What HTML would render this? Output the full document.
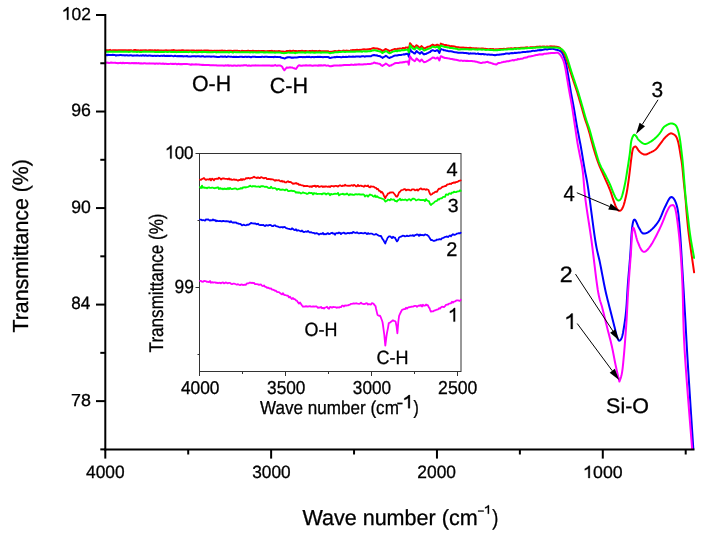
<!DOCTYPE html>
<html><head><meta charset="utf-8"><style>
html,body{margin:0;padding:0;background:#fff;}
svg{display:block;font-family:"Liberation Sans", sans-serif;will-change:transform;text-rendering:geometricPrecision;}
</style></head><body>
<svg width="706" height="537" viewBox="0 0 706 537">
<rect width="706" height="537" fill="#fff"/>
<line x1="96" y1="15.0" x2="105.3" y2="15.0" stroke="#000" stroke-width="2"/>
<line x1="96" y1="111.53" x2="105.3" y2="111.53" stroke="#000" stroke-width="2"/>
<line x1="96" y1="208.06" x2="105.3" y2="208.06" stroke="#000" stroke-width="2"/>
<line x1="96" y1="304.59000000000003" x2="105.3" y2="304.59000000000003" stroke="#000" stroke-width="2"/>
<line x1="96" y1="401.12" x2="105.3" y2="401.12" stroke="#000" stroke-width="2"/>
<line x1="100.3" y1="63.26" x2="105.3" y2="63.26" stroke="#000" stroke-width="2"/>
<line x1="100.3" y1="159.79" x2="105.3" y2="159.79" stroke="#000" stroke-width="2"/>
<line x1="100.3" y1="256.32" x2="105.3" y2="256.32" stroke="#000" stroke-width="2"/>
<line x1="100.3" y1="352.85" x2="105.3" y2="352.85" stroke="#000" stroke-width="2"/>
<line x1="100.3" y1="449.38" x2="105.3" y2="449.38" stroke="#000" stroke-width="2"/>
<line x1="105.3" y1="449.5" x2="105.3" y2="458.6" stroke="#000" stroke-width="2"/>
<line x1="271.13" y1="449.5" x2="271.13" y2="458.6" stroke="#000" stroke-width="2"/>
<line x1="436.96000000000004" y1="449.5" x2="436.96000000000004" y2="458.6" stroke="#000" stroke-width="2"/>
<line x1="602.79" y1="449.5" x2="602.79" y2="458.6" stroke="#000" stroke-width="2"/>
<line x1="188.215" y1="449.5" x2="188.215" y2="454.5" stroke="#000" stroke-width="2"/>
<line x1="354.045" y1="449.5" x2="354.045" y2="454.5" stroke="#000" stroke-width="2"/>
<line x1="519.875" y1="449.5" x2="519.875" y2="454.5" stroke="#000" stroke-width="2"/>
<line x1="685.7049999999999" y1="449.5" x2="685.7049999999999" y2="454.5" stroke="#000" stroke-width="2"/>
<g transform="translate(61.93,19.63) scale(0.9950,1)"><path d="M0.375 0L0.287 0L0.287 -0.555Q0.19 -0.48 0.09 -0.452L0.09 -0.54Q0.24 -0.6 0.315 -0.716L0.375 -0.716Z" transform="translate(0.00,0) scale(17.493)" fill="#000" stroke="#000" stroke-width="0.0171"/><text x="9.73" y="0" font-size="17.49" fill="#000" stroke="#000" stroke-width="0.3" xml:space="preserve">02</text></g>
<g transform="translate(71.17,116.42) scale(0.9881,1)"><text x="0.00" y="0" font-size="17.94" fill="#000" stroke="#000" stroke-width="0.3" xml:space="preserve">96</text></g>
<g transform="translate(71.17,212.82) scale(0.9833,1)"><text x="0.00" y="0" font-size="17.94" fill="#000" stroke="#000" stroke-width="0.3" xml:space="preserve">90</text></g>
<g transform="translate(71.26,309.22) scale(0.9616,1)"><text x="0.00" y="0" font-size="17.80" fill="#000" stroke="#000" stroke-width="0.3" xml:space="preserve">84</text></g>
<g transform="translate(71.09,406.03) scale(1.0289,1)"><text x="0.00" y="0" font-size="17.37" fill="#000" stroke="#000" stroke-width="0.3" xml:space="preserve">78</text></g>
<g transform="translate(86.00,477.72) scale(0.9667,1)"><text x="0.00" y="0" font-size="17.94" fill="#000" stroke="#000" stroke-width="0.3" xml:space="preserve">4000</text></g>
<g transform="translate(252.24,477.72) scale(0.9708,1)"><text x="0.00" y="0" font-size="17.80" fill="#000" stroke="#000" stroke-width="0.3" xml:space="preserve">3000</text></g>
<g transform="translate(417.33,477.72) scale(0.9685,1)"><text x="0.00" y="0" font-size="17.94" fill="#000" stroke="#000" stroke-width="0.3" xml:space="preserve">2000</text></g>
<g transform="translate(583.20,478.03) scale(1.0311,1)"><path d="M0.375 0L0.287 0L0.287 -0.555Q0.19 -0.48 0.09 -0.452L0.09 -0.54Q0.24 -0.6 0.315 -0.716L0.375 -0.716Z" transform="translate(0.00,0) scale(17.218)" fill="#000" stroke="#000" stroke-width="0.0174"/><text x="9.58" y="0" font-size="17.22" fill="#000" stroke="#000" stroke-width="0.3" xml:space="preserve">000</text></g>
<g transform="translate(28.29,332.57) rotate(-90) scale(0.9801,1)"><text x="0.00" y="0" font-size="21.78" fill="#000" stroke="#000" stroke-width="0.3" xml:space="preserve">Transmittance (%)</text></g>
<g transform="translate(302.39,525.29) scale(0.9900,1)"><text x="0.00" y="0" font-size="21.78" fill="#000" stroke="#000" stroke-width="0.3" xml:space="preserve">Wave number (cm</text></g>
<g transform="translate(477.54,515.42) scale(1.0020,1)"><text x="0.00" y="0" font-size="11.50" fill="#000" stroke="#000" stroke-width="0.3" xml:space="preserve">−</text></g>
<g transform="translate(483.87,513.70) scale(1.1664,1)"><path d="M0.375 0L0.287 0L0.287 -0.555Q0.19 -0.48 0.09 -0.452L0.09 -0.54Q0.24 -0.6 0.315 -0.716L0.375 -0.716Z" transform="translate(0.00,0) scale(11.732)" fill="#000" stroke="#000" stroke-width="0.0256"/></g>
<g transform="translate(492.19,525.29) scale(0.8489,1)"><text x="0.00" y="0" font-size="21.78" fill="#000" stroke="#000" stroke-width="0.3" xml:space="preserve">)</text></g>
<g transform="translate(192.00,91.38) scale(0.9690,1)"><text x="0.00" y="0" font-size="22.03" fill="#000" stroke="#000" stroke-width="0.3" xml:space="preserve">O-H</text></g>
<g transform="translate(269.70,93.28) scale(0.9793,1)"><text x="0.00" y="0" font-size="22.03" fill="#000" stroke="#000" stroke-width="0.3" xml:space="preserve">C-H</text></g>
<g transform="translate(606.11,412.69) scale(1.0175,1)"><text x="0.00" y="0" font-size="21.09" fill="#000" stroke="#000" stroke-width="0.3" xml:space="preserve">Si-O</text></g>
<g transform="translate(564.54,328.90) scale(1.0114,1)"><path d="M0.375 0L0.287 0L0.287 -0.555Q0.19 -0.48 0.09 -0.452L0.09 -0.54Q0.24 -0.6 0.315 -0.716L0.375 -0.716Z" transform="translate(0.00,0) scale(21.508)" fill="#000" stroke="#000" stroke-width="0.0139"/></g>
<g transform="translate(559.64,281.75) scale(1.0434,1)"><text x="0.00" y="0" font-size="22.28" fill="#000" stroke="#000" stroke-width="0.3" xml:space="preserve">2</text></g>
<g transform="translate(651.61,97.48) scale(0.9602,1)"><text x="0.00" y="0" font-size="21.75" fill="#000" stroke="#000" stroke-width="0.3" xml:space="preserve">3</text></g>
<g transform="translate(563.43,200.50) scale(0.9160,1)"><text x="0.00" y="0" font-size="22.09" fill="#000" stroke="#000" stroke-width="0.3" xml:space="preserve">4</text></g>
<polyline points="106.00,55.00 107.00,55.32 108.00,54.65 109.00,55.11 110.00,54.98 111.00,55.01 112.00,55.06 113.00,54.80 114.00,55.09 115.00,55.01 116.00,55.65 117.00,55.20 118.00,55.13 119.00,55.16 120.00,55.12 121.00,55.07 122.00,55.19 123.00,55.33 124.00,55.24 125.00,55.44 126.00,55.28 127.00,55.33 128.00,55.57 129.00,55.44 130.00,55.29 131.00,55.36 132.00,55.48 133.00,55.71 134.00,55.39 135.00,55.41 136.00,55.61 137.00,55.34 138.00,55.45 139.00,55.64 140.00,55.61 141.00,55.55 142.00,55.65 143.00,55.15 144.00,55.74 145.00,55.46 146.00,55.37 147.00,55.67 148.00,55.75 149.00,55.59 150.00,55.52 151.00,55.70 152.00,55.70 153.00,55.93 154.00,55.85 155.00,55.78 156.00,55.94 157.00,55.75 158.00,55.66 159.00,55.90 160.00,55.92 161.00,55.81 162.00,55.74 163.00,55.91 164.00,55.52 165.00,56.01 166.00,56.00 167.00,55.69 168.00,55.96 169.00,55.82 170.00,56.10 171.00,55.69 172.00,55.88 173.00,56.14 174.00,56.22 175.00,55.74 176.00,56.00 177.00,56.14 178.00,56.02 179.00,56.36 180.00,55.96 181.00,56.21 182.00,56.01 183.00,56.40 184.00,56.20 185.00,56.21 186.00,56.17 187.00,55.98 188.00,56.51 189.00,56.38 190.00,56.40 191.00,56.47 192.00,56.36 193.00,56.23 194.00,56.22 195.00,56.23 196.00,56.57 197.00,56.16 198.00,56.30 199.00,56.36 200.00,56.46 201.00,56.52 202.00,56.26 203.00,56.20 204.00,56.48 205.00,56.67 206.00,56.62 207.00,56.55 208.00,56.49 209.00,56.59 210.00,56.52 211.00,56.70 212.00,56.47 213.00,56.62 214.00,56.60 215.00,56.71 216.00,56.68 217.00,57.04 218.00,56.90 219.00,56.91 220.00,56.70 221.00,56.40 222.00,56.66 223.00,56.62 224.00,56.80 225.00,56.38 226.00,56.91 227.00,56.90 228.00,56.54 229.00,56.60 230.00,56.63 231.00,56.76 232.00,56.86 233.00,57.07 234.00,56.74 235.00,56.89 236.00,56.80 237.00,57.05 238.00,56.90 239.00,57.00 240.00,56.64 241.00,56.78 242.00,56.69 243.00,57.04 244.00,56.92 245.00,56.78 246.00,56.76 247.00,56.91 248.00,56.73 249.00,56.71 250.00,56.92 251.00,57.22 252.00,56.82 253.00,56.78 254.00,56.69 255.00,56.67 256.00,56.96 257.00,57.01 258.00,56.89 259.00,56.94 260.00,56.92 261.00,56.93 262.00,56.68 263.00,56.85 264.00,56.94 265.00,56.81 266.00,56.86 267.00,56.81 268.00,56.89 269.00,57.07 270.00,56.89 271.00,56.93 272.00,57.08 273.00,57.06 274.00,57.22 275.00,56.66 276.00,57.11 277.00,56.91 278.00,57.01 279.00,57.12 280.00,57.00 281.00,57.49 282.00,57.81 283.00,58.00 284.30,58.40 285.00,58.41 286.00,57.81 287.00,57.50 288.00,57.20 289.00,57.36 290.00,57.19 291.00,57.64 292.00,57.50 293.00,57.71 294.00,57.42 295.00,57.41 296.00,57.50 297.00,57.40 298.00,57.36 299.00,57.04 300.00,57.00 301.00,57.06 302.00,57.00 303.00,57.24 304.00,56.90 305.00,57.16 306.00,56.90 307.00,56.86 308.00,56.89 309.00,56.82 310.00,57.02 311.00,57.15 312.00,57.02 313.00,57.09 314.00,57.24 315.00,57.04 316.00,57.03 317.00,56.96 318.00,56.76 319.00,57.11 320.00,56.74 321.00,57.10 322.00,57.00 323.00,57.17 324.00,56.99 325.00,56.88 326.00,57.05 327.00,56.92 328.00,57.00 329.00,57.47 330.00,58.00 331.00,57.81 332.00,57.58 333.00,57.37 334.00,57.20 335.00,57.06 336.00,57.14 337.00,56.83 338.00,57.11 339.00,56.94 340.00,57.10 341.00,57.24 342.00,57.23 343.00,56.72 344.00,57.00 345.00,56.93 346.00,56.76 347.00,56.97 348.00,56.79 349.00,56.56 350.00,56.76 351.00,56.75 352.00,56.76 353.00,56.53 354.00,56.77 355.00,56.76 356.00,56.45 357.00,56.49 358.00,56.55 359.00,56.45 360.00,56.76 361.00,56.50 362.00,56.29 363.00,56.29 364.00,56.37 365.00,56.69 366.00,56.29 367.00,56.31 368.00,56.34 369.00,56.22 370.00,56.20 371.00,56.22 372.00,55.48 373.00,55.36 374.00,54.93 375.00,55.16 376.00,55.44 377.00,55.37 378.00,56.02 379.00,55.95 380.00,56.17 381.00,56.86 382.00,57.39 382.50,57.87 383.00,57.45 384.00,57.00 385.00,56.43 385.90,55.71 387.00,56.54 388.00,57.27 389.30,57.95 390.00,57.74 391.00,57.20 392.00,56.87 393.00,56.39 394.40,55.68 395.00,55.59 396.00,55.57 397.00,55.52 398.00,55.23 399.00,55.01 400.00,55.03 401.00,55.07 402.00,54.62 403.00,54.51 404.00,54.36 405.00,54.43 406.00,53.84 407.00,54.03 408.00,53.84 408.80,56.72 410.00,49.07 411.00,50.59 412.20,52.03 413.00,52.38 414.00,53.31 414.80,53.55 416.00,51.92 416.50,51.12 417.00,51.43 418.00,52.34 419.00,52.87 419.90,53.81 421.00,52.56 421.60,52.01 423.00,53.64 424.10,54.43 425.00,53.93 426.00,53.93 427.00,53.23 428.00,52.99 429.00,52.44 430.10,51.98 431.00,50.99 432.00,50.52 432.60,50.17 434.00,50.68 435.20,51.07 436.00,50.60 437.00,50.21 437.70,50.16 439.40,52.86 440.00,51.25 440.80,48.98 442.00,49.36 443.00,49.61 443.70,50.14 445.00,50.27 446.00,50.67 447.00,50.64 448.00,51.03 449.00,51.29 450.00,51.24 451.00,51.24 452.00,51.39 453.00,51.75 454.00,52.06 455.00,52.15 456.00,52.36 457.00,52.39 458.00,52.67 459.00,52.80 460.00,52.78 461.00,52.86 462.00,52.77 463.00,52.78 464.00,52.99 465.00,52.95 466.00,53.03 467.00,53.33 468.00,53.26 469.00,53.77 470.00,53.53 471.00,53.35 472.00,53.61 473.00,53.60 474.00,53.60 475.00,53.56 476.00,53.89 477.00,53.67 478.00,53.39 479.00,54.04 480.00,53.89 481.00,54.27 482.00,54.01 483.00,53.99 484.00,54.47 485.00,54.14 486.00,54.39 487.00,54.64 488.00,54.50 489.00,54.54 490.00,54.63 491.00,54.80 492.00,54.62 493.00,54.90 494.00,54.95 495.00,55.28 496.10,55.00 497.00,54.84 498.00,54.64 499.00,54.77 500.00,54.48 501.00,54.47 502.00,54.33 503.00,54.36 504.00,53.97 505.00,53.94 506.00,53.45 507.00,53.58 508.00,53.60 509.00,53.73 510.00,53.30 511.00,53.19 512.00,53.02 513.00,53.19 514.00,53.03 515.00,52.72 516.00,52.90 517.00,52.74 518.00,52.71 519.00,52.40 520.00,52.66 521.00,52.36 522.00,52.18 523.00,52.02 524.00,51.96 525.00,51.90 526.00,51.91 527.00,51.62 528.00,51.71 529.00,51.52 530.00,51.51 531.00,51.32 532.00,51.07 533.00,50.67 534.00,50.89 535.00,50.84 536.00,50.63 537.00,50.57 538.00,50.30 539.00,50.20 540.00,49.99 541.00,50.22 542.00,49.90 543.00,49.79 544.00,49.57 545.00,49.31 546.00,49.36 547.00,49.47 548.00,49.19 549.00,48.88 550.00,49.07 551.00,48.94 552.00,48.60 552.00,48.60 552.22,48.66 552.49,48.73 552.82,48.81 553.19,48.91 553.60,49.01 554.05,49.13 554.51,49.26 555.00,49.40 555.54,49.55 556.14,49.70 556.80,49.85 557.47,50.02 558.14,50.21 558.79,50.42 559.38,50.65 559.90,50.90 560.34,51.16 560.73,51.40 561.07,51.65 561.38,51.93 561.68,52.25 561.97,52.64 562.27,53.12 562.60,53.70 562.95,54.40 563.31,55.20 563.68,56.09 564.05,57.05 564.41,58.06 564.76,59.10 565.09,60.15 565.40,61.20 565.68,62.25 565.94,63.33 566.18,64.44 566.41,65.57 566.63,66.73 566.85,67.92 567.07,69.14 567.30,70.40 567.54,71.70 567.78,73.06 568.02,74.45 568.26,75.88 568.49,77.31 568.73,78.75 568.97,80.19 569.20,81.60 569.42,82.98 569.63,84.32 569.84,85.64 570.04,86.97 570.26,88.34 570.48,89.75 570.73,91.23 571.00,92.80 571.30,94.46 571.63,96.20 571.98,98.00 572.34,99.86 572.71,101.75 573.08,103.68 573.44,105.63 573.80,107.60 574.15,109.61 574.50,111.68 574.85,113.80 575.20,115.94 575.55,118.09 575.90,120.21 576.25,122.29 576.60,124.30 576.96,126.29 577.33,128.31 577.70,130.31 578.08,132.27 578.44,134.17 578.78,135.98 579.11,137.67 579.40,139.20 579.64,140.46 579.84,141.43 580.00,142.22 580.15,142.94 580.31,143.72 580.49,144.66 580.71,145.88 581.00,147.50 581.35,149.55 581.76,151.95 582.20,154.61 582.67,157.44 583.15,160.37 583.65,163.31 584.13,166.18 584.60,168.90 585.04,171.30 585.44,173.37 585.84,175.30 586.24,177.29 586.67,179.50 587.14,182.14 587.68,185.37 588.30,189.40 589.03,194.53 589.87,200.72 590.78,207.62 591.74,214.89 592.70,222.17 593.63,229.11 594.51,235.37 595.30,240.60 595.99,244.74 596.62,248.09 597.20,250.87 597.76,253.26 598.29,255.46 598.84,257.66 599.40,260.08 600.00,262.90 600.64,266.12 601.30,269.53 601.97,273.08 602.66,276.68 603.34,280.24 604.01,283.70 604.67,286.98 605.30,290.00 605.91,292.74 606.50,295.27 607.07,297.63 607.64,299.88 608.20,302.06 608.76,304.23 609.32,306.42 609.90,308.70 610.50,311.09 611.12,313.58 611.76,316.09 612.39,318.59 613.00,321.01 613.58,323.31 614.12,325.42 614.60,327.30 615.01,328.94 615.36,330.40 615.67,331.70 615.95,332.86 616.21,333.90 616.46,334.86 616.72,335.75 617.00,336.60 617.29,337.42 617.57,338.18 617.85,338.88 618.12,339.49 618.41,339.99 618.69,340.37 618.99,340.62 619.30,340.70 619.63,340.64 619.97,340.46 620.33,340.15 620.69,339.72 621.06,339.15 621.42,338.44 621.77,337.59 622.10,336.60 622.42,335.41 622.74,334.02 623.06,332.46 623.36,330.78 623.66,329.01 623.95,327.19 624.23,325.38 624.50,323.60 624.76,321.90 625.00,320.24 625.23,318.59 625.45,316.89 625.67,315.10 625.88,313.17 626.09,311.05 626.30,308.70 626.50,306.09 626.70,303.25 626.88,300.23 627.07,297.06 627.26,293.80 627.46,290.47 627.67,287.12 627.90,283.80 628.16,280.46 628.44,277.04 628.73,273.56 629.03,270.04 629.34,266.49 629.64,262.95 629.93,259.41 630.20,255.90 630.45,252.28 630.69,248.47 630.92,244.58 631.14,240.73 631.36,237.03 631.59,233.60 631.84,230.55 632.10,228.00 632.37,225.90 632.64,224.14 632.91,222.68 633.19,221.53 633.49,220.66 633.82,220.06 634.19,219.71 634.60,219.60 635.07,219.87 635.59,220.59 636.15,221.65 636.74,222.93 637.35,224.32 637.95,225.71 638.54,226.97 639.10,228.00 639.62,228.88 640.11,229.77 640.57,230.64 641.04,231.45 641.53,232.17 642.06,232.78 642.64,233.23 643.30,233.50 644.03,233.59 644.82,233.55 645.66,233.36 646.54,233.05 647.45,232.62 648.39,232.08 649.34,231.44 650.30,230.70 651.30,229.85 652.35,228.86 653.44,227.76 654.54,226.55 655.64,225.26 656.71,223.89 657.74,222.47 658.70,221.00 659.59,219.43 660.42,217.71 661.22,215.89 661.98,214.02 662.73,212.15 663.47,210.32 664.23,208.59 665.00,207.00 665.79,205.43 666.59,203.77 667.39,202.12 668.19,200.56 668.99,199.18 669.77,198.07 670.55,197.31 671.30,197.00 672.05,197.13 672.81,197.61 673.57,198.41 674.32,199.50 675.04,200.84 675.71,202.39 676.34,204.12 676.90,206.00 677.38,207.99 677.80,210.12 678.16,212.42 678.48,214.94 678.78,217.72 679.07,220.80 679.37,224.21 679.70,228.00 680.04,232.25 680.38,236.94 680.72,242.01 681.05,247.36 681.38,252.90 681.72,258.56 682.06,264.26 682.40,269.90 682.75,275.60 683.10,281.50 683.46,287.52 683.82,293.61 684.17,299.70 684.53,305.74 684.87,311.66 685.20,317.40 685.50,322.65 685.75,327.32 685.98,331.71 686.22,336.13 686.48,340.87 686.78,346.23 687.14,352.51 687.60,360.00 688.19,369.48 688.93,380.99 689.75,393.75 690.60,406.96 691.43,419.84 692.20,431.60 692.84,441.45 693.30,448.60" fill="none" stroke="#0000ff" stroke-width="2.0" stroke-linejoin="round" stroke-linecap="round" />
<polyline points="106.00,62.70 107.00,62.62 108.00,62.71 109.00,63.00 110.00,62.87 111.00,62.54 112.00,62.81 113.00,62.73 114.00,62.87 115.00,62.62 116.00,62.92 117.00,62.93 118.00,63.15 119.00,62.98 120.00,63.03 121.00,62.75 122.00,63.33 123.00,62.72 124.00,63.19 125.00,62.99 126.00,62.93 127.00,62.98 128.00,62.99 129.00,63.17 130.00,63.11 131.00,63.37 132.00,62.89 133.00,63.18 134.00,63.07 135.00,63.34 136.00,62.92 137.00,63.20 138.00,63.31 139.00,63.07 140.00,63.46 141.00,63.36 142.00,63.50 143.00,63.51 144.00,63.24 145.00,63.28 146.00,63.39 147.00,63.55 148.00,63.58 149.00,63.37 150.00,63.40 151.00,63.39 152.00,63.44 153.00,63.51 154.00,63.54 155.00,63.89 156.00,63.52 157.00,63.57 158.00,63.70 159.00,63.51 160.00,63.61 161.00,63.69 162.00,63.82 163.00,63.53 164.00,63.95 165.00,63.71 166.00,63.80 167.00,63.92 168.00,63.91 169.00,63.99 170.00,63.87 171.00,63.86 172.00,63.93 173.00,63.75 174.00,64.10 175.00,63.82 176.00,63.77 177.00,64.28 178.00,63.97 179.00,63.83 180.00,64.31 181.00,64.00 182.00,64.22 183.00,63.96 184.00,64.10 185.00,64.10 186.00,63.92 187.00,63.93 188.00,64.11 189.00,64.28 190.00,64.45 191.00,64.74 192.00,64.26 193.00,64.60 194.00,64.40 195.00,64.50 196.00,64.34 197.00,64.38 198.00,64.53 199.00,64.50 200.00,64.72 201.00,64.66 202.00,64.99 203.00,64.86 204.00,64.90 205.00,65.09 206.00,65.03 207.00,64.99 208.00,65.02 209.00,65.05 210.00,65.27 211.00,65.27 212.00,65.24 213.00,65.35 214.00,65.18 215.00,65.38 216.00,65.13 217.00,65.59 218.00,65.44 219.00,65.49 220.00,65.50 221.00,65.59 222.00,65.50 223.00,65.46 224.00,65.68 225.00,65.52 226.00,65.36 227.00,65.57 228.00,65.24 229.00,65.75 230.00,65.47 231.00,65.51 232.00,65.84 233.00,65.82 234.00,65.52 235.00,65.59 236.00,65.66 237.00,65.75 238.00,65.48 239.00,65.52 240.00,65.68 241.00,65.54 242.00,65.61 243.00,65.59 244.00,65.33 245.00,65.37 246.00,65.10 247.00,65.46 248.00,65.70 249.00,65.33 250.00,65.69 251.00,65.65 252.00,65.49 253.00,65.50 254.00,65.51 255.00,65.37 256.00,65.46 257.00,65.49 258.00,65.59 259.00,65.62 260.00,65.39 261.00,65.62 262.00,65.38 263.00,65.47 264.00,65.56 265.00,65.50 266.00,65.48 267.00,65.54 268.00,65.42 269.00,65.40 270.00,65.47 271.00,65.64 272.00,65.48 273.00,65.79 274.00,65.53 275.00,65.05 276.00,65.43 277.00,65.75 278.00,65.50 279.00,65.43 280.00,65.50 281.00,65.87 282.00,66.50 283.00,68.35 284.30,70.30 285.00,69.56 286.00,68.24 286.50,67.50 287.00,67.56 288.00,67.72 289.00,67.62 290.00,67.32 291.00,67.62 292.00,67.50 293.00,67.88 294.00,68.18 295.00,68.66 296.00,68.90 297.00,67.45 298.00,66.00 299.00,65.31 300.00,65.50 301.00,65.73 302.00,65.66 303.00,65.48 304.00,65.44 305.00,65.53 306.00,65.31 307.00,65.55 308.00,65.47 309.00,65.45 310.00,65.36 311.00,65.40 312.00,65.67 313.00,65.70 314.00,65.58 315.00,65.49 316.00,65.37 317.00,65.61 318.00,65.74 319.00,65.26 320.00,65.68 321.00,65.18 322.00,65.45 323.00,65.56 324.00,65.30 325.00,65.27 326.00,65.53 327.00,65.63 328.00,65.50 329.00,65.83 330.00,66.30 331.00,66.30 332.00,65.78 333.00,65.96 334.00,65.50 335.00,65.48 336.00,65.47 337.00,65.49 338.00,65.41 339.00,65.61 340.00,65.30 341.00,65.59 342.00,65.30 343.00,65.15 344.00,64.95 345.00,64.97 346.00,65.04 347.00,64.98 348.00,64.95 349.00,64.91 350.00,64.94 351.00,64.62 352.00,64.63 353.00,64.90 354.00,64.82 355.00,64.57 356.00,64.80 357.00,64.46 358.00,64.48 359.00,64.20 360.00,64.56 361.00,64.39 362.00,64.51 363.00,64.41 364.00,64.27 365.00,64.24 366.00,64.35 367.00,64.11 368.00,64.07 369.00,64.06 370.00,64.00 371.00,63.77 372.00,63.44 373.00,63.24 374.00,62.60 375.00,62.82 376.00,63.26 377.00,63.21 378.00,63.63 379.00,63.79 380.00,64.00 381.00,65.03 382.00,65.62 382.50,65.90 383.00,65.49 384.00,64.93 385.00,64.19 385.90,63.50 387.00,64.27 388.00,65.01 389.30,66.00 390.00,65.52 391.00,65.59 392.00,64.70 393.00,64.34 394.40,63.50 395.00,63.24 396.00,63.11 397.00,63.10 398.00,62.96 399.00,62.95 400.00,62.53 401.00,62.62 402.00,62.62 403.00,62.11 404.00,62.23 405.00,61.80 406.00,61.85 407.00,61.71 408.00,61.50 408.80,64.70 410.00,56.20 411.00,57.97 412.20,59.50 413.00,59.93 414.00,60.71 414.80,61.20 416.00,59.46 416.50,58.50 417.00,58.77 418.00,59.83 419.00,60.58 419.90,61.50 421.00,60.11 421.60,59.50 423.00,61.12 424.10,62.20 425.00,61.91 426.00,61.74 427.00,61.11 428.00,60.65 429.00,59.98 430.10,59.50 431.00,58.74 432.00,58.01 432.60,57.50 434.00,57.70 435.20,58.50 436.00,58.44 437.00,57.69 437.70,57.50 439.40,60.50 440.00,58.50 440.80,56.20 442.00,56.68 443.00,57.32 443.70,57.50 445.00,57.95 446.00,57.90 447.00,58.22 448.00,58.34 449.00,58.39 450.00,58.77 451.00,58.94 452.00,58.90 453.00,59.49 454.00,59.29 455.00,59.75 456.00,59.76 457.00,59.99 458.00,60.20 459.00,60.50 460.00,60.66 461.00,60.41 462.00,60.61 463.00,60.92 464.00,60.63 465.00,60.78 466.00,60.93 467.00,60.79 468.00,60.99 469.00,60.87 470.00,61.12 471.00,61.07 472.00,60.97 473.00,61.37 474.00,61.20 475.00,61.45 476.00,61.69 477.00,61.86 478.00,62.19 479.00,62.51 480.00,62.82 480.80,63.00 482.00,62.96 483.00,62.42 484.00,62.39 485.00,62.44 486.00,62.11 487.00,61.97 487.60,61.80 489.00,62.50 490.00,62.64 491.00,62.99 492.00,63.25 493.00,63.85 494.00,64.07 495.00,64.13 496.10,64.60 497.00,64.11 498.00,63.21 498.60,63.00 500.00,62.90 501.00,62.64 502.00,62.33 503.00,62.10 504.00,61.70 505.00,61.89 506.00,61.57 507.00,61.35 508.00,61.20 509.00,61.13 510.00,60.73 511.00,60.56 512.00,60.36 513.00,60.08 514.00,60.46 515.00,59.88 516.00,59.68 517.00,59.68 518.00,58.89 519.00,59.17 520.00,59.00 521.00,58.66 521.60,58.70 523.00,58.40 524.00,57.76 525.00,57.80 526.00,57.55 527.00,57.44 528.00,56.73 529.00,56.60 530.00,56.54 531.00,56.32 532.00,55.97 533.00,55.88 534.00,55.61 535.20,55.30 536.00,54.96 537.00,55.00 538.00,54.68 539.00,54.41 540.00,54.21 541.00,54.58 542.00,54.26 543.00,54.42 544.00,53.76 545.00,53.78 546.00,53.74 547.00,53.52 548.00,53.47 548.80,53.30 550.00,53.18 551.00,52.98 552.00,53.00 552.00,53.00 552.23,52.99 552.54,52.98 552.91,52.97 553.31,52.95 553.74,52.93 554.18,52.92 554.60,52.91 555.00,52.90 555.38,52.88 555.75,52.83 556.13,52.77 556.51,52.73 556.89,52.70 557.26,52.71 557.63,52.77 558.00,52.90 558.36,53.09 558.71,53.32 559.06,53.59 559.41,53.90 559.76,54.26 560.10,54.66 560.45,55.11 560.80,55.60 561.16,56.15 561.52,56.75 561.89,57.41 562.26,58.11 562.62,58.84 562.97,59.61 563.30,60.39 563.60,61.20 563.87,62.01 564.12,62.84 564.34,63.68 564.56,64.56 564.76,65.47 564.97,66.45 565.18,67.49 565.40,68.60 565.63,69.81 565.87,71.11 566.11,72.49 566.34,73.91 566.58,75.37 566.82,76.83 567.06,78.28 567.30,79.70 567.53,81.07 567.76,82.41 567.98,83.73 568.20,85.06 568.43,86.42 568.67,87.84 568.92,89.32 569.20,90.90 569.50,92.56 569.82,94.28 570.15,96.06 570.49,97.89 570.85,99.79 571.20,101.74 571.55,103.74 571.90,105.80 572.25,107.94 572.59,110.17 572.94,112.47 573.29,114.81 573.65,117.19 574.00,119.58 574.35,121.95 574.70,124.30 575.06,126.68 575.42,129.15 575.79,131.65 576.15,134.14 576.51,136.57 576.86,138.89 577.19,141.05 577.50,143.00 577.78,144.67 578.03,146.06 578.26,147.28 578.48,148.39 578.70,149.50 578.93,150.68 579.20,152.01 579.50,153.60 579.85,155.35 580.22,157.15 580.63,159.04 581.05,161.04 581.48,163.18 581.90,165.50 582.31,168.03 582.70,170.80 583.05,173.80 583.35,176.99 583.64,180.37 583.93,183.94 584.23,187.69 584.58,191.62 585.00,195.72 585.50,200.00 586.09,204.47 586.77,209.14 587.50,214.00 588.28,219.04 589.09,224.23 589.90,229.56 590.71,235.03 591.50,240.60 592.28,246.56 593.09,253.05 593.91,259.83 594.73,266.67 595.54,273.34 596.33,279.60 597.09,285.23 597.80,290.00 598.46,293.81 599.09,296.84 599.68,299.27 600.26,301.27 600.82,303.04 601.37,304.75 601.93,306.58 602.50,308.70 603.08,311.03 603.65,313.35 604.23,315.68 604.80,318.00 605.37,320.32 605.95,322.65 606.52,324.97 607.10,327.30 607.69,329.63 608.29,331.97 608.90,334.31 609.51,336.65 610.11,338.99 610.69,341.33 611.26,343.67 611.80,346.00 612.31,348.35 612.80,350.74 613.27,353.14 613.73,355.53 614.18,357.89 614.62,360.21 615.06,362.45 615.50,364.60 615.96,366.74 616.43,368.93 616.91,371.11 617.38,373.21 617.82,375.17 618.23,376.93 618.60,378.42 618.90,379.60 619.12,380.45 619.27,381.03 619.36,381.38 619.42,381.51 619.47,381.46 619.54,381.26 619.64,380.93 619.80,380.50 620.02,379.95 620.29,379.25 620.58,378.40 620.89,377.41 621.21,376.27 621.53,375.01 621.83,373.62 622.10,372.10 622.35,370.41 622.59,368.54 622.82,366.50 623.05,364.34 623.27,362.11 623.48,359.83 623.69,357.55 623.90,355.30 624.10,353.05 624.30,350.76 624.49,348.42 624.68,346.06 624.87,343.69 625.05,341.31 625.22,338.95 625.40,336.60 625.57,334.33 625.73,332.16 625.89,330.03 626.05,327.88 626.21,325.66 626.37,323.31 626.53,320.77 626.70,318.00 626.87,314.99 627.04,311.80 627.20,308.46 627.38,304.97 627.56,301.36 627.75,297.65 627.96,293.86 628.20,290.00 628.47,285.99 628.76,281.76 629.07,277.39 629.40,272.94 629.73,268.50 630.07,264.13 630.39,259.91 630.70,255.90 630.98,251.83 631.23,247.51 631.47,243.15 631.71,238.95 631.97,235.13 632.26,231.89 632.60,229.44 633.00,228.00 633.47,227.77 633.99,228.63 634.55,230.33 635.14,232.59 635.77,235.15 636.41,237.73 637.05,240.07 637.70,241.90 638.35,243.43 639.00,245.00 639.67,246.55 640.36,248.02 641.06,249.33 641.78,250.43 642.53,251.24 643.30,251.70 644.09,251.82 644.89,251.68 645.70,251.28 646.54,250.65 647.41,249.80 648.32,248.75 649.28,247.51 650.30,246.10 651.41,244.42 652.62,242.40 653.89,240.13 655.20,237.69 656.51,235.17 657.78,232.64 658.99,230.19 660.10,227.90 661.13,225.67 662.11,223.36 663.05,221.05 663.95,218.78 664.80,216.60 665.61,214.57 666.38,212.76 667.10,211.20 667.76,209.88 668.35,208.74 668.88,207.78 669.38,206.98 669.85,206.35 670.32,205.88 670.79,205.56 671.30,205.40 671.82,205.27 672.35,205.13 672.88,205.09 673.40,205.23 673.92,205.67 674.45,206.51 674.97,207.85 675.50,209.80 676.04,212.42 676.59,215.65 677.14,219.38 677.69,223.51 678.23,227.93 678.76,232.54 679.25,237.23 679.70,241.90 680.11,246.50 680.49,251.12 680.84,255.83 681.18,260.72 681.49,265.88 681.80,271.39 682.10,277.33 682.40,283.80 682.66,290.69 682.86,297.88 683.03,305.42 683.20,313.36 683.41,321.73 683.69,330.60 684.07,340.01 684.60,350.00 685.34,361.45 686.28,374.68 687.35,388.93 688.49,403.44 689.60,417.42 690.63,430.12 691.49,440.77 692.10,448.60" fill="none" stroke="#ff00ff" stroke-width="2.0" stroke-linejoin="round" stroke-linecap="round" />
<polyline points="106.00,50.20 107.00,50.23 108.00,50.13 109.00,50.15 110.00,49.85 111.00,50.49 112.00,50.39 113.00,50.18 114.00,50.35 115.00,50.28 116.00,50.16 117.00,50.39 118.00,50.20 119.00,50.20 120.00,50.14 121.00,50.33 122.00,50.25 123.00,50.35 124.00,50.18 125.00,50.29 126.00,50.14 127.00,50.41 128.00,50.31 129.00,50.34 130.00,50.35 131.00,50.14 132.00,50.42 133.00,50.61 134.00,50.06 135.00,50.05 136.00,50.09 137.00,50.45 138.00,50.34 139.00,50.49 140.00,50.44 141.00,50.37 142.00,50.38 143.00,50.32 144.00,50.48 145.00,50.18 146.00,50.29 147.00,50.39 148.00,50.63 149.00,50.25 150.00,50.21 151.00,50.29 152.00,50.52 153.00,50.35 154.00,50.58 155.00,50.11 156.00,50.56 157.00,50.55 158.00,50.19 159.00,50.43 160.00,50.59 161.00,50.42 162.00,50.57 163.00,50.78 164.00,50.46 165.00,50.38 166.00,50.32 167.00,50.53 168.00,50.41 169.00,50.42 170.00,50.43 171.00,50.55 172.00,50.29 173.00,50.23 174.00,50.10 175.00,50.65 176.00,50.48 177.00,50.70 178.00,50.48 179.00,50.37 180.00,50.56 181.00,50.48 182.00,50.30 183.00,50.36 184.00,50.50 185.00,50.77 186.00,50.57 187.00,50.59 188.00,50.49 189.00,50.44 190.00,50.68 191.00,50.54 192.00,50.45 193.00,50.55 194.00,50.45 195.00,50.62 196.00,50.77 197.00,50.48 198.00,50.83 199.00,50.52 200.00,50.66 201.00,50.52 202.00,50.62 203.00,50.67 204.00,50.60 205.00,50.57 206.00,50.58 207.00,50.57 208.00,50.46 209.00,50.67 210.00,50.78 211.00,50.86 212.00,50.83 213.00,51.11 214.00,50.80 215.00,50.69 216.00,51.05 217.00,50.62 218.00,50.93 219.00,50.65 220.00,50.80 221.00,50.86 222.00,50.52 223.00,50.95 224.00,50.80 225.00,50.69 226.00,51.09 227.00,50.96 228.00,50.86 229.00,50.75 230.00,50.86 231.00,50.85 232.00,50.99 233.00,51.01 234.00,50.79 235.00,50.82 236.00,50.83 237.00,50.71 238.00,50.83 239.00,50.91 240.00,51.04 241.00,51.14 242.00,50.83 243.00,51.04 244.00,50.89 245.00,51.28 246.00,50.97 247.00,51.06 248.00,50.85 249.00,50.87 250.00,51.03 251.00,50.95 252.00,51.07 253.00,50.79 254.00,51.13 255.00,50.90 256.00,51.30 257.00,51.00 258.00,51.22 259.00,50.85 260.00,51.13 261.00,50.94 262.00,51.01 263.00,51.09 264.00,51.05 265.00,51.14 266.00,51.22 267.00,51.21 268.00,51.11 269.00,50.92 270.00,51.01 271.00,51.11 272.00,50.83 273.00,51.27 274.00,51.12 275.00,51.13 276.00,51.32 277.00,51.28 278.00,51.22 279.00,51.04 280.00,51.20 281.00,51.40 282.00,51.55 283.00,51.52 284.00,51.80 285.00,51.76 286.00,51.48 287.00,50.90 288.00,51.00 289.00,51.02 290.00,50.81 291.00,51.17 292.00,51.12 293.00,50.83 294.00,50.87 295.00,51.02 296.00,50.96 297.00,51.23 298.00,51.11 299.00,50.96 300.00,51.00 301.00,51.09 302.00,50.71 303.00,51.07 304.00,51.16 305.00,51.01 306.00,50.94 307.00,51.13 308.00,51.35 309.00,51.10 310.00,50.90 311.00,51.30 312.00,50.80 313.00,51.17 314.00,51.01 315.00,51.25 316.00,50.99 317.00,51.32 318.00,51.17 319.00,50.88 320.00,50.85 321.00,51.10 322.00,51.35 323.00,51.18 324.00,51.18 325.00,51.14 326.00,51.30 327.00,51.25 328.00,51.20 329.00,51.64 330.00,52.00 331.00,51.65 332.00,51.78 333.00,51.60 334.00,51.20 335.00,50.99 336.00,51.51 337.00,51.26 338.00,51.06 339.00,50.83 340.00,51.10 341.00,51.14 342.00,51.06 343.00,50.82 344.00,50.58 345.00,50.95 346.00,50.63 347.00,50.59 348.00,51.02 349.00,50.85 350.00,50.61 351.00,50.34 352.00,50.44 353.00,49.93 354.00,50.23 355.00,50.04 356.00,49.89 357.00,49.79 358.00,50.04 359.00,49.91 360.00,49.86 361.00,49.90 362.00,49.58 363.00,49.46 364.00,49.31 365.00,49.47 366.00,49.57 367.00,49.37 368.00,49.42 369.00,49.09 370.00,49.20 371.00,48.85 372.00,48.52 373.00,48.16 374.00,48.07 375.00,48.56 376.00,48.62 377.00,48.59 378.00,48.80 379.00,49.12 380.00,49.34 381.00,49.79 382.00,50.73 382.50,50.99 383.00,50.51 384.00,50.06 385.00,49.38 385.90,49.00 387.00,49.63 388.00,50.15 389.30,51.18 390.00,50.66 391.00,50.35 392.00,49.99 393.00,49.64 394.40,49.12 395.00,49.07 396.00,49.18 397.00,48.96 398.00,48.69 399.00,48.72 400.00,48.40 401.00,48.61 402.00,48.37 403.00,47.97 404.00,48.18 405.00,48.07 406.00,47.44 407.00,47.62 408.00,47.62 408.80,50.35 410.00,43.14 411.00,44.36 412.20,45.98 413.00,46.15 414.00,46.85 414.80,47.46 416.00,45.72 416.50,45.19 417.00,45.65 418.00,46.38 419.00,47.50 419.90,47.79 421.00,46.65 421.60,46.11 423.00,47.59 424.10,48.45 425.00,48.13 426.00,47.79 427.00,47.20 428.00,46.72 429.00,46.53 430.10,46.24 431.00,45.75 432.00,45.21 432.60,44.57 434.00,45.14 435.20,45.46 436.00,45.27 437.00,44.75 437.70,44.64 439.40,47.22 440.00,45.89 440.80,43.58 442.00,44.26 443.00,44.37 443.70,44.73 445.00,44.96 446.00,45.00 447.00,45.55 448.00,45.57 449.00,45.68 450.00,45.93 451.00,46.12 452.00,46.17 453.00,46.23 454.00,46.40 455.00,46.52 456.00,47.03 457.00,47.47 458.00,47.06 459.00,47.50 460.00,47.57 461.00,47.67 462.00,47.51 463.00,47.74 464.00,47.60 465.00,48.00 466.00,47.78 467.00,47.94 468.00,48.08 469.00,47.97 470.00,47.82 471.00,48.06 472.00,48.31 473.00,48.23 474.00,48.30 475.00,48.38 476.00,48.23 477.00,48.46 478.00,48.59 479.00,48.53 480.00,48.86 481.00,48.59 482.00,48.51 483.00,48.46 484.00,48.93 485.00,48.79 486.00,48.99 487.00,48.96 488.00,49.18 489.00,49.17 490.00,48.97 491.00,49.11 492.00,49.28 493.00,48.97 494.00,49.42 495.00,49.43 496.10,49.30 497.00,49.40 498.00,49.17 499.00,49.20 500.00,48.94 501.00,49.06 502.00,48.91 503.00,48.97 504.00,48.83 505.00,48.89 506.00,48.98 507.00,48.55 508.00,48.84 509.00,48.35 510.00,48.60 511.00,48.21 512.00,48.45 513.00,48.40 514.00,48.40 515.00,48.02 516.00,48.19 517.00,48.15 518.00,48.25 519.00,47.98 520.00,48.01 521.00,47.72 522.00,47.77 523.00,47.67 524.00,47.77 525.00,47.60 526.00,47.39 527.00,47.36 528.00,47.51 529.00,47.63 530.00,47.36 531.00,47.29 532.00,47.14 533.00,47.29 534.00,47.15 535.00,47.27 536.00,47.00 537.00,46.75 538.00,46.75 539.00,46.63 540.00,46.53 541.00,46.85 542.00,46.60 543.00,46.72 544.00,46.41 545.00,46.87 546.00,46.64 547.00,46.46 548.00,46.66 549.00,46.59 550.00,46.48 551.00,46.31 552.00,46.60 552.00,46.60 552.31,46.60 552.73,46.60 553.23,46.60 553.78,46.59 554.36,46.60 554.94,46.62 555.50,46.65 556.00,46.70 556.47,46.76 556.94,46.83 557.40,46.91 557.86,47.01 558.30,47.12 558.72,47.25 559.12,47.41 559.50,47.60 559.84,47.82 560.15,48.06 560.43,48.32 560.70,48.61 560.96,48.92 561.22,49.26 561.50,49.62 561.80,50.00 562.12,50.39 562.45,50.79 562.78,51.20 563.12,51.64 563.47,52.12 563.82,52.65 564.16,53.24 564.50,53.90 564.84,54.64 565.17,55.44 565.51,56.30 565.84,57.22 566.18,58.17 566.52,59.16 566.86,60.17 567.20,61.20 567.54,62.25 567.87,63.32 568.20,64.42 568.54,65.56 568.88,66.72 569.23,67.91 569.61,69.14 570.00,70.40 570.42,71.70 570.86,73.06 571.32,74.45 571.79,75.88 572.27,77.31 572.75,78.75 573.23,80.19 573.70,81.60 574.16,82.99 574.62,84.36 575.08,85.72 575.54,87.09 576.01,88.47 576.47,89.87 576.93,91.31 577.40,92.80 577.87,94.34 578.35,95.92 578.82,97.54 579.30,99.19 579.78,100.85 580.25,102.51 580.73,104.16 581.20,105.80 581.67,107.44 582.13,109.09 582.59,110.76 583.06,112.42 583.52,114.06 583.98,115.68 584.44,117.27 584.90,118.80 585.35,120.23 585.79,121.54 586.23,122.78 586.67,124.01 587.12,125.28 587.58,126.65 588.08,128.17 588.60,129.90 589.16,131.88 589.76,134.09 590.38,136.45 591.03,138.91 591.68,141.39 592.33,143.85 592.97,146.20 593.60,148.40 594.21,150.46 594.82,152.44 595.41,154.37 596.01,156.24 596.62,158.08 597.23,159.87 597.85,161.64 598.50,163.40 599.16,165.12 599.84,166.78 600.54,168.40 601.24,169.99 601.95,171.57 602.66,173.15 603.38,174.76 604.10,176.40 604.84,178.10 605.62,179.85 606.41,181.63 607.20,183.41 607.97,185.17 608.71,186.87 609.39,188.49 610.00,190.00 610.52,191.39 610.97,192.69 611.37,193.90 611.73,195.06 612.07,196.19 612.41,197.31 612.78,198.44 613.20,199.60 613.66,200.84 614.14,202.15 614.64,203.48 615.15,204.80 615.66,206.06 616.16,207.20 616.64,208.20 617.10,209.00 617.53,209.62 617.95,210.10 618.36,210.45 618.75,210.68 619.14,210.80 619.52,210.83 619.91,210.75 620.30,210.60 620.69,210.37 621.08,210.06 621.47,209.65 621.85,209.14 622.23,208.53 622.62,207.79 623.01,206.91 623.40,205.90 623.80,204.72 624.21,203.36 624.63,201.86 625.04,200.24 625.45,198.54 625.85,196.78 626.24,194.99 626.60,193.20 626.94,191.39 627.26,189.54 627.56,187.64 627.86,185.69 628.14,183.69 628.43,181.64 628.71,179.54 629.00,177.40 629.30,175.12 629.60,172.67 629.90,170.13 630.20,167.56 630.49,165.04 630.78,162.64 631.05,160.43 631.30,158.50 631.53,156.81 631.74,155.30 631.93,153.94 632.11,152.72 632.29,151.63 632.48,150.66 632.68,149.78 632.90,149.00 633.14,148.34 633.40,147.83 633.68,147.44 633.96,147.16 634.23,146.95 634.51,146.81 634.76,146.70 635.00,146.60 635.20,146.52 635.38,146.49 635.53,146.51 635.68,146.57 635.84,146.70 636.02,146.87 636.24,147.11 636.50,147.40 636.81,147.79 637.14,148.28 637.49,148.86 637.88,149.48 638.29,150.11 638.73,150.73 639.20,151.30 639.70,151.80 640.25,152.26 640.84,152.72 641.47,153.17 642.13,153.59 642.80,153.96 643.47,154.27 644.14,154.49 644.80,154.60 645.44,154.60 646.08,154.49 646.73,154.29 647.37,154.03 648.02,153.71 648.67,153.38 649.33,153.03 650.00,152.70 650.69,152.38 651.40,152.05 652.11,151.70 652.84,151.33 653.56,150.93 654.26,150.50 654.95,150.02 655.60,149.50 656.22,148.92 656.82,148.28 657.39,147.60 657.96,146.88 658.51,146.14 659.07,145.39 659.63,144.64 660.20,143.90 660.78,143.15 661.36,142.37 661.94,141.57 662.52,140.76 663.10,139.97 663.69,139.20 664.29,138.48 664.90,137.80 665.53,137.15 666.19,136.51 666.87,135.88 667.54,135.29 668.21,134.75 668.85,134.28 669.45,133.89 670.00,133.60 670.49,133.43 670.94,133.35 671.36,133.36 671.74,133.44 672.11,133.57 672.47,133.74 672.83,133.92 673.20,134.10 673.58,134.28 673.95,134.49 674.32,134.73 674.68,134.99 675.03,135.28 675.37,135.61 675.70,135.99 676.00,136.40 676.28,136.86 676.55,137.36 676.80,137.91 677.04,138.49 677.26,139.10 677.48,139.74 677.69,140.41 677.90,141.10 678.10,141.81 678.29,142.55 678.46,143.32 678.63,144.12 678.80,144.94 678.96,145.80 679.13,146.68 679.30,147.60 679.47,148.55 679.65,149.55 679.82,150.58 680.00,151.64 680.17,152.72 680.35,153.81 680.52,154.91 680.70,156.00 680.87,157.05 681.05,158.06 681.22,159.06 681.39,160.07 681.57,161.14 681.74,162.30 681.92,163.57 682.10,165.00 682.28,166.58 682.46,168.28 682.64,170.09 682.82,171.99 683.00,173.97 683.19,176.01 683.39,178.09 683.60,180.20 683.82,182.39 684.06,184.69 684.31,187.07 684.56,189.49 684.81,191.92 685.06,194.33 685.29,196.66 685.50,198.90 685.69,201.00 685.85,202.99 685.99,204.91 686.13,206.81 686.27,208.72 686.43,210.69 686.60,212.77 686.80,215.00 687.01,217.29 687.22,219.55 687.43,221.84 687.66,224.24 687.92,226.79 688.22,229.56 688.58,232.61 689.00,236.00 689.53,240.05 690.19,244.85 690.92,250.09 691.69,255.46 692.43,260.67 693.12,265.42 693.69,269.39 694.10,272.30" fill="none" stroke="#ff0000" stroke-width="2.0" stroke-linejoin="round" stroke-linecap="round" />
<polyline points="106.00,51.60 107.00,51.66 108.00,51.73 109.00,51.66 110.00,51.43 111.00,51.76 112.00,51.70 113.00,51.56 114.00,51.73 115.00,51.70 116.00,51.70 117.00,51.66 118.00,51.74 119.00,51.56 120.00,51.65 121.00,51.60 122.00,51.77 123.00,51.69 124.00,51.65 125.00,51.58 126.00,51.66 127.00,51.71 128.00,51.67 129.00,51.91 130.00,51.87 131.00,51.32 132.00,51.45 133.00,51.71 134.00,51.68 135.00,51.78 136.00,51.79 137.00,52.08 138.00,51.60 139.00,51.71 140.00,52.08 141.00,51.88 142.00,51.88 143.00,51.71 144.00,51.55 145.00,51.83 146.00,51.82 147.00,51.63 148.00,51.71 149.00,51.81 150.00,51.68 151.00,51.82 152.00,51.85 153.00,51.85 154.00,51.77 155.00,51.94 156.00,51.99 157.00,51.91 158.00,51.74 159.00,51.98 160.00,51.80 161.00,52.01 162.00,51.73 163.00,52.03 164.00,51.89 165.00,51.72 166.00,51.86 167.00,51.92 168.00,51.96 169.00,51.78 170.00,51.76 171.00,51.96 172.00,51.87 173.00,51.98 174.00,52.06 175.00,51.71 176.00,52.00 177.00,52.15 178.00,51.92 179.00,51.85 180.00,52.09 181.00,52.02 182.00,52.12 183.00,51.94 184.00,52.00 185.00,51.78 186.00,51.99 187.00,51.95 188.00,52.14 189.00,52.06 190.00,51.79 191.00,51.86 192.00,52.18 193.00,52.15 194.00,51.96 195.00,52.06 196.00,52.13 197.00,52.14 198.00,52.21 199.00,52.12 200.00,52.07 201.00,52.06 202.00,52.26 203.00,51.77 204.00,52.09 205.00,52.12 206.00,51.91 207.00,52.18 208.00,52.04 209.00,52.27 210.00,52.13 211.00,52.25 212.00,52.34 213.00,52.22 214.00,52.04 215.00,51.95 216.00,52.44 217.00,52.17 218.00,52.09 219.00,52.22 220.00,52.20 221.00,52.18 222.00,52.34 223.00,52.22 224.00,52.22 225.00,52.12 226.00,52.30 227.00,52.08 228.00,52.34 229.00,52.47 230.00,52.02 231.00,51.89 232.00,52.35 233.00,52.65 234.00,52.12 235.00,52.09 236.00,52.37 237.00,52.16 238.00,52.21 239.00,52.24 240.00,52.38 241.00,52.24 242.00,52.35 243.00,52.29 244.00,52.19 245.00,52.28 246.00,52.19 247.00,52.34 248.00,52.17 249.00,52.18 250.00,52.57 251.00,52.35 252.00,52.35 253.00,52.44 254.00,52.31 255.00,52.34 256.00,52.44 257.00,52.43 258.00,52.22 259.00,52.52 260.00,52.31 261.00,52.25 262.00,52.27 263.00,52.36 264.00,52.66 265.00,52.25 266.00,52.45 267.00,52.11 268.00,52.44 269.00,52.58 270.00,52.41 271.00,52.36 272.00,52.49 273.00,52.57 274.00,52.57 275.00,52.77 276.00,52.51 277.00,52.40 278.00,52.47 279.00,52.48 280.00,52.50 281.00,52.72 282.00,52.90 283.00,53.13 284.00,53.30 285.00,52.87 286.00,53.07 287.00,52.69 288.00,52.60 289.00,52.45 290.00,52.75 291.00,52.87 292.00,52.77 293.00,52.75 294.00,52.61 295.00,53.21 296.00,52.80 297.00,52.86 298.00,52.48 299.00,52.46 300.00,52.50 301.00,52.51 302.00,52.27 303.00,52.53 304.00,52.43 305.00,52.68 306.00,52.64 307.00,52.09 308.00,52.51 309.00,52.26 310.00,52.67 311.00,52.53 312.00,52.58 313.00,52.34 314.00,52.77 315.00,52.80 316.00,52.34 317.00,52.56 318.00,52.40 319.00,52.50 320.00,52.31 321.00,52.78 322.00,52.35 323.00,52.46 324.00,52.58 325.00,52.40 326.00,52.46 327.00,52.42 328.00,52.50 329.00,52.88 330.00,53.30 331.00,52.92 332.00,52.83 333.00,52.67 334.00,52.50 335.00,52.37 336.00,52.34 337.00,52.21 338.00,52.28 339.00,52.03 340.00,52.00 341.00,51.96 342.00,51.85 343.00,51.85 344.00,51.72 345.00,51.96 346.00,51.69 347.00,51.72 348.00,51.87 349.00,51.85 350.00,51.71 351.00,51.44 352.00,51.78 353.00,51.74 354.00,51.46 355.00,51.77 356.00,51.52 357.00,51.43 358.00,51.59 359.00,51.53 360.00,51.56 361.00,51.27 362.00,51.76 363.00,51.37 364.00,51.21 365.00,51.51 366.00,51.34 367.00,51.42 368.00,51.30 369.00,51.31 370.00,51.30 371.00,51.05 372.00,50.62 373.00,50.55 374.00,50.16 375.00,50.30 376.00,50.45 377.00,50.80 378.00,51.07 379.00,51.18 380.00,51.42 381.00,51.95 382.00,52.83 382.50,53.07 383.00,52.51 384.00,52.03 385.00,51.60 385.90,51.07 387.00,51.56 388.00,52.41 389.30,53.23 390.00,52.94 391.00,52.68 392.00,52.00 393.00,51.64 394.40,51.17 395.00,51.15 396.00,50.62 397.00,51.34 398.00,50.66 399.00,50.54 400.00,50.67 401.00,50.42 402.00,50.04 403.00,50.29 404.00,50.21 405.00,49.91 406.00,49.82 407.00,49.82 408.00,49.63 408.80,52.36 410.00,45.15 411.00,46.30 412.20,47.98 413.00,48.50 414.00,49.04 414.80,49.46 416.00,47.75 416.50,47.19 417.00,47.36 418.00,48.30 419.00,48.96 419.90,49.78 421.00,48.84 421.60,48.10 423.00,49.42 424.10,50.42 425.00,50.21 426.00,49.74 427.00,49.39 428.00,48.86 429.00,48.71 430.10,48.20 431.00,47.87 432.00,46.89 432.60,46.53 434.00,46.92 435.20,47.41 436.00,47.13 437.00,46.75 437.70,46.59 439.40,49.16 440.00,47.50 440.80,45.53 442.00,46.02 443.00,46.35 443.70,46.67 445.00,47.11 446.00,47.08 447.00,47.30 448.00,47.58 449.00,47.57 450.00,48.01 451.00,47.88 452.00,48.03 453.00,48.27 454.00,48.49 455.00,48.47 456.00,48.86 457.00,48.79 458.00,49.43 459.00,49.40 460.00,49.38 461.00,49.29 462.00,49.24 463.00,49.32 464.00,49.33 465.00,49.20 466.00,49.22 467.00,49.32 468.00,49.26 469.00,49.47 470.00,49.50 471.00,49.32 472.00,49.38 473.00,49.11 474.00,49.30 475.00,49.44 476.00,49.38 477.00,49.49 478.00,49.70 479.00,49.16 480.00,49.58 481.00,49.42 482.00,49.71 483.00,49.47 484.00,49.63 485.00,49.78 486.00,49.88 487.00,49.84 488.00,49.75 489.00,49.83 490.00,50.08 491.00,49.99 492.00,49.78 493.00,50.20 494.00,50.18 495.00,50.29 496.10,50.20 497.00,50.08 498.00,50.18 499.00,49.82 500.00,49.99 501.00,49.76 502.00,49.85 503.00,49.83 504.00,49.49 505.00,49.52 506.00,49.46 507.00,49.55 508.00,49.30 509.00,49.34 510.00,48.99 511.00,49.17 512.00,49.15 513.00,49.30 514.00,48.66 515.00,48.77 516.00,48.98 517.00,48.51 518.00,48.47 519.00,48.67 520.00,48.68 521.00,48.36 522.00,48.48 523.00,48.35 524.00,48.49 525.00,48.20 526.00,48.15 527.00,48.24 528.00,47.91 529.00,47.96 530.00,47.92 531.00,48.05 532.00,47.92 533.00,47.66 534.00,47.83 535.00,47.79 536.00,47.60 537.00,47.53 538.00,47.48 539.00,47.20 540.00,47.43 541.00,47.39 542.00,47.30 543.00,47.19 544.00,47.45 545.00,47.15 546.00,47.30 547.00,47.33 548.00,47.72 549.00,47.20 550.00,47.54 551.00,47.62 552.00,47.50 552.00,47.50 552.31,47.49 552.72,47.48 553.22,47.46 553.76,47.45 554.34,47.44 554.92,47.44 555.48,47.46 556.00,47.50 556.49,47.56 556.99,47.62 557.48,47.70 557.98,47.79 558.46,47.90 558.92,48.02 559.37,48.15 559.80,48.30 560.20,48.46 560.57,48.61 560.92,48.78 561.26,48.97 561.59,49.18 561.92,49.41 562.26,49.69 562.60,50.00 562.95,50.34 563.30,50.70 563.65,51.07 564.00,51.49 564.35,51.95 564.70,52.46 565.05,53.04 565.40,53.70 565.75,54.44 566.10,55.27 566.45,56.16 566.80,57.11 567.15,58.10 567.50,59.12 567.85,60.16 568.20,61.20 568.54,62.25 568.88,63.33 569.21,64.44 569.54,65.57 569.88,66.73 570.24,67.92 570.61,69.14 571.00,70.40 571.42,71.70 571.86,73.06 572.32,74.45 572.79,75.88 573.27,77.31 573.75,78.75 574.23,80.19 574.70,81.60 575.16,82.99 575.62,84.36 576.08,85.72 576.54,87.09 577.01,88.47 577.47,89.87 577.93,91.31 578.40,92.80 578.87,94.34 579.35,95.92 579.82,97.54 580.30,99.19 580.78,100.85 581.25,102.51 581.73,104.16 582.20,105.80 582.67,107.44 583.13,109.09 583.59,110.76 584.06,112.42 584.52,114.06 584.98,115.68 585.44,117.27 585.90,118.80 586.35,120.23 586.79,121.54 587.22,122.78 587.66,124.01 588.10,125.28 588.57,126.65 589.07,128.17 589.60,129.90 590.18,131.88 590.81,134.09 591.46,136.45 592.14,138.91 592.82,141.39 593.50,143.85 594.16,146.20 594.80,148.40 595.41,150.47 595.99,152.49 596.56,154.45 597.12,156.36 597.69,158.21 598.27,160.01 598.87,161.74 599.50,163.40 600.16,164.98 600.85,166.47 601.56,167.90 602.29,169.26 603.01,170.59 603.73,171.89 604.43,173.19 605.10,174.50 605.76,175.82 606.41,177.12 607.06,178.42 607.70,179.69 608.32,180.94 608.91,182.17 609.47,183.35 610.00,184.50 610.48,185.61 610.92,186.68 611.33,187.72 611.71,188.73 612.08,189.71 612.45,190.67 612.82,191.60 613.20,192.50 613.59,193.40 613.99,194.30 614.38,195.19 614.77,196.05 615.16,196.86 615.54,197.60 615.92,198.25 616.30,198.80 616.67,199.26 617.04,199.66 617.41,199.99 617.77,200.24 618.14,200.42 618.49,200.50 618.85,200.50 619.20,200.40 619.54,200.23 619.88,200.00 620.21,199.69 620.54,199.29 620.87,198.78 621.20,198.14 621.54,197.35 621.90,196.40 622.27,195.25 622.66,193.89 623.06,192.38 623.47,190.74 623.87,189.03 624.26,187.27 624.64,185.52 625.00,183.80 625.33,182.10 625.65,180.38 625.95,178.63 626.24,176.85 626.53,175.05 626.82,173.22 627.10,171.37 627.40,169.50 627.71,167.57 628.02,165.58 628.34,163.54 628.66,161.49 628.97,159.46 629.26,157.46 629.54,155.53 629.80,153.70 630.02,151.93 630.22,150.17 630.39,148.45 630.55,146.79 630.71,145.20 630.88,143.71 631.08,142.34 631.30,141.10 631.56,139.99 631.84,138.97 632.14,138.06 632.45,137.26 632.77,136.55 633.09,135.96 633.40,135.47 633.70,135.10 633.99,134.86 634.27,134.76 634.55,134.79 634.83,134.92 635.11,135.12 635.39,135.39 635.69,135.69 636.00,136.00 636.31,136.36 636.60,136.81 636.89,137.32 637.19,137.87 637.52,138.44 637.89,139.02 638.31,139.58 638.80,140.10 639.37,140.63 640.00,141.20 640.69,141.80 641.42,142.37 642.18,142.91 642.93,143.36 643.68,143.70 644.40,143.90 645.10,143.95 645.80,143.88 646.50,143.71 647.20,143.45 647.90,143.13 648.60,142.77 649.30,142.39 650.00,142.00 650.71,141.59 651.42,141.13 652.14,140.63 652.86,140.10 653.57,139.54 654.27,138.97 654.95,138.38 655.60,137.80 656.23,137.21 656.84,136.60 657.44,135.98 658.02,135.34 658.58,134.69 659.14,134.03 659.67,133.37 660.20,132.70 660.69,132.01 661.14,131.28 661.57,130.54 661.99,129.79 662.41,129.05 662.86,128.35 663.35,127.69 663.90,127.10 664.52,126.55 665.21,126.04 665.94,125.55 666.70,125.10 667.46,124.69 668.19,124.34 668.88,124.04 669.50,123.80 670.06,123.63 670.58,123.52 671.07,123.47 671.53,123.47 671.96,123.52 672.38,123.59 672.79,123.69 673.20,123.80 673.60,123.93 673.98,124.09 674.36,124.27 674.71,124.49 675.06,124.74 675.38,125.02 675.70,125.34 676.00,125.70 676.28,126.09 676.54,126.49 676.78,126.92 677.01,127.39 677.23,127.92 677.45,128.50 677.67,129.16 677.90,129.90 678.14,130.71 678.38,131.58 678.62,132.50 678.86,133.49 679.09,134.56 679.33,135.71 679.57,136.96 679.80,138.30 680.03,139.78 680.27,141.41 680.50,143.16 680.73,144.97 680.96,146.83 681.18,148.67 681.39,150.48 681.60,152.20 681.80,153.84 681.98,155.42 682.16,156.98 682.34,158.52 682.51,160.07 682.67,161.66 682.84,163.29 683.00,165.00 683.16,166.76 683.30,168.55 683.45,170.37 683.59,172.23 683.73,174.14 683.88,176.10 684.03,178.12 684.20,180.20 684.38,182.39 684.56,184.69 684.76,187.07 684.96,189.49 685.16,191.92 685.37,194.33 685.58,196.66 685.80,198.90 686.02,201.00 686.24,202.99 686.46,204.91 686.69,206.81 686.92,208.72 687.17,210.69 687.43,212.77 687.70,215.00 687.98,217.38 688.27,219.88 688.57,222.48 688.88,225.14 689.21,227.84 689.55,230.57 689.91,233.30 690.30,236.00 690.74,238.84 691.25,241.93 691.80,245.11 692.36,248.26 692.90,251.25 693.39,253.94 693.80,256.20 694.10,257.90" fill="none" stroke="#00ff00" stroke-width="2.0" stroke-linejoin="round" stroke-linecap="round" />
<line x1="105.3" y1="14" x2="105.3" y2="450.5" stroke="#000" stroke-width="2"/>
<line x1="104.3" y1="449.5" x2="694.5" y2="449.5" stroke="#000" stroke-width="2"/>
<line x1="575.5" y1="274.1" x2="612.79" y2="330.89" stroke="#000" stroke-width="1"/>
<polygon points="619.10,340.50 610.11,332.64 615.46,329.13" fill="#000"/>
<line x1="577.2" y1="323.5" x2="612.25" y2="370.76" stroke="#000" stroke-width="1"/>
<polygon points="619.10,380.00 609.68,372.67 614.82,368.86" fill="#000"/>
<line x1="576.8" y1="192.7" x2="609.51" y2="206.52" stroke="#000" stroke-width="1"/>
<polygon points="620.10,211.00 608.26,209.47 610.75,203.58" fill="#000"/>
<line x1="658" y1="99.8" x2="642.29" y2="124.41" stroke="#000" stroke-width="1"/>
<polygon points="636.10,134.10 639.59,122.69 644.99,126.13" fill="#000"/>
<rect x="199.5" y="153.5" width="261.5" height="218.0" fill="none" stroke="#333" stroke-width="1"/>
<line x1="199.5" y1="371.5" x2="199.5" y2="376" stroke="#333" stroke-width="1"/>
<line x1="285.5" y1="371.5" x2="285.5" y2="376" stroke="#333" stroke-width="1"/>
<line x1="371.5" y1="371.5" x2="371.5" y2="376" stroke="#333" stroke-width="1"/>
<line x1="457.5" y1="371.5" x2="457.5" y2="376" stroke="#333" stroke-width="1"/>
<line x1="242.5" y1="371.5" x2="242.5" y2="374" stroke="#333" stroke-width="1"/>
<line x1="328.5" y1="371.5" x2="328.5" y2="374" stroke="#333" stroke-width="1"/>
<line x1="414.5" y1="371.5" x2="414.5" y2="374" stroke="#333" stroke-width="1"/>
<line x1="195.5" y1="153.5" x2="199.5" y2="153.5" stroke="#333" stroke-width="1"/>
<line x1="195.5" y1="287.5" x2="199.5" y2="287.5" stroke="#333" stroke-width="1"/>
<line x1="197.5" y1="220.5" x2="199.5" y2="220.5" stroke="#333" stroke-width="1"/>
<line x1="197.5" y1="354.5" x2="199.5" y2="354.5" stroke="#333" stroke-width="1"/>
<g transform="translate(165.27,158.52) scale(0.9255,1)"><path d="M0.375 0L0.287 0L0.287 -0.555Q0.19 -0.48 0.09 -0.452L0.09 -0.54Q0.24 -0.6 0.315 -0.716L0.375 -0.716Z" transform="translate(0.00,0) scale(18.320)" fill="#000" stroke="#000" stroke-width="0.0164"/><text x="10.19" y="0" font-size="18.32" fill="#000" stroke="#000" stroke-width="0.3" xml:space="preserve">00</text></g>
<g transform="translate(174.58,292.91) scale(0.9117,1)"><text x="0.00" y="0" font-size="19.07" fill="#000" stroke="#000" stroke-width="0.3" xml:space="preserve">99</text></g>
<g transform="translate(180.90,393.91) scale(0.9372,1)"><text x="0.00" y="0" font-size="18.50" fill="#000" stroke="#000" stroke-width="0.3" xml:space="preserve">4000</text></g>
<g transform="translate(267.04,394.01) scale(0.9266,1)"><text x="0.00" y="0" font-size="18.64" fill="#000" stroke="#000" stroke-width="0.3" xml:space="preserve">3500</text></g>
<g transform="translate(352.85,394.01) scale(0.9216,1)"><text x="0.00" y="0" font-size="18.64" fill="#000" stroke="#000" stroke-width="0.3" xml:space="preserve">3000</text></g>
<g transform="translate(438.12,394.01) scale(0.9469,1)"><text x="0.00" y="0" font-size="18.64" fill="#000" stroke="#000" stroke-width="0.3" xml:space="preserve">2500</text></g>
<g transform="translate(260.11,414.11) scale(0.9092,1)"><text x="0.00" y="0" font-size="18.78" fill="#000" stroke="#000" stroke-width="0.3" xml:space="preserve">Wave number (cm</text></g>
<g transform="translate(396.40,407.86) scale(1.2005,1)"><text x="0.00" y="0" font-size="17.00" fill="#000" stroke="#000" stroke-width="0.3" xml:space="preserve">-</text></g>
<g transform="translate(402.53,408.20) scale(1.0740,1)"><path d="M0.375 0L0.287 0L0.287 -0.555Q0.19 -0.48 0.09 -0.452L0.09 -0.54Q0.24 -0.6 0.315 -0.716L0.375 -0.716Z" transform="translate(0.00,0) scale(18.296)" fill="#000" stroke="#000" stroke-width="0.0164"/></g>
<g transform="translate(413.40,414.32) scale(0.8252,1)"><text x="0.00" y="0" font-size="19.21" fill="#000" stroke="#000" stroke-width="0.3" xml:space="preserve">)</text></g>
<g transform="translate(162.71,352.38) rotate(-90) scale(0.8655,1)"><text x="0.00" y="0" font-size="19.74" fill="#000" stroke="#000" stroke-width="0.3" xml:space="preserve">Transmittance (%)</text></g>
<g transform="translate(304.46,335.61) scale(0.9344,1)"><text x="0.00" y="0" font-size="19.21" fill="#000" stroke="#000" stroke-width="0.3" xml:space="preserve">O-H</text></g>
<g transform="translate(376.38,364.21) scale(0.9398,1)"><text x="0.00" y="0" font-size="19.21" fill="#000" stroke="#000" stroke-width="0.3" xml:space="preserve">C-H</text></g>
<g transform="translate(446.44,175.60) scale(1.0366,1)"><text x="0.00" y="0" font-size="19.33" fill="#000" stroke="#000" stroke-width="0.3" xml:space="preserve">4</text></g>
<g transform="translate(447.66,212.31) scale(1.0255,1)"><text x="0.00" y="0" font-size="18.93" fill="#000" stroke="#000" stroke-width="0.3" xml:space="preserve">3</text></g>
<g transform="translate(446.20,256.20) scale(1.0094,1)"><text x="0.00" y="0" font-size="19.77" fill="#000" stroke="#000" stroke-width="0.3" xml:space="preserve">2</text></g>
<g transform="translate(448.26,321.60) scale(0.9536,1)"><path d="M0.375 0L0.287 0L0.287 -0.555Q0.19 -0.48 0.09 -0.452L0.09 -0.54Q0.24 -0.6 0.315 -0.716L0.375 -0.716Z" transform="translate(0.00,0) scale(19.134)" fill="#000" stroke="#000" stroke-width="0.0157"/></g>
<polyline points="200.00,280.80 201.00,280.93 202.00,281.71 203.00,281.75 204.00,281.00 205.00,281.22 206.00,281.22 207.00,281.88 208.00,281.68 209.00,282.20 210.00,281.01 211.00,282.83 212.00,282.12 213.00,282.62 214.00,282.32 215.00,282.32 216.00,282.85 216.70,282.70 218.00,283.20 219.00,282.76 220.00,282.85 221.00,283.34 222.00,282.63 223.00,282.38 224.00,283.40 225.00,282.94 226.00,282.39 227.00,283.01 228.00,283.25 229.00,282.96 230.00,282.88 231.00,283.71 232.00,284.21 233.00,283.72 234.00,283.53 235.40,284.00 236.00,284.27 237.00,284.57 238.00,284.20 239.00,284.75 240.00,285.13 241.00,284.64 242.00,284.47 242.90,285.00 244.00,284.90 245.00,284.60 246.00,284.78 247.00,283.34 248.00,283.41 249.00,283.07 250.00,282.38 251.00,283.06 252.20,282.70 253.00,283.17 254.00,282.79 255.00,284.10 256.00,284.07 257.00,284.23 258.00,284.37 259.00,284.90 259.70,284.60 261.00,284.43 262.00,285.78 263.00,286.16 264.00,285.36 265.00,286.80 266.00,286.88 267.00,287.78 268.00,287.55 269.00,288.14 270.00,288.70 271.00,288.47 272.00,289.59 272.80,289.60 274.00,290.06 275.00,290.79 276.00,290.71 277.00,291.94 278.00,292.13 279.00,292.16 280.00,292.99 281.00,293.74 282.00,294.43 283.00,293.17 284.00,294.83 285.00,295.05 285.90,295.20 287.00,295.71 288.00,295.77 289.00,297.41 290.00,296.66 291.00,298.08 292.00,298.96 293.00,298.01 294.00,299.17 295.00,299.18 296.00,300.46 297.10,300.90 298.00,302.43 299.00,303.55 300.00,302.51 301.00,303.97 302.00,305.47 303.00,306.77 303.60,306.50 305.00,306.71 306.00,306.13 307.00,306.65 308.00,306.49 309.00,306.40 310.00,306.13 311.00,306.69 312.00,306.65 313.00,306.45 313.90,306.50 315.00,306.59 316.00,306.24 317.00,306.82 318.00,307.84 319.00,307.32 320.00,307.60 321.00,306.86 322.00,308.23 323.00,307.81 324.00,308.58 325.00,307.53 326.00,307.25 327.00,306.74 328.00,308.11 329.00,308.71 330.00,306.99 331.00,307.06 332.00,307.66 333.00,306.93 334.00,307.19 335.00,307.13 336.00,307.38 337.00,307.82 338.00,307.26 339.00,307.69 340.00,307.00 340.50,307.20 341.00,307.20 342.00,305.65 343.00,305.67 344.00,306.48 345.00,305.46 346.00,305.73 347.00,305.39 348.00,305.46 349.00,304.88 350.00,304.66 350.80,303.90 352.00,303.82 353.00,303.51 354.00,303.48 355.00,303.58 356.00,303.24 357.00,303.52 358.00,303.73 359.00,303.88 360.00,303.57 361.00,302.76 362.00,303.67 363.00,303.80 364.00,304.21 365.00,303.94 366.00,303.31 367.00,303.25 368.00,304.60 369.00,303.96 370.00,304.48 371.00,304.61 372.00,303.12 373.40,303.50 374.00,304.41 375.00,305.63 375.50,306.00 376.00,308.48 377.00,312.87 377.50,314.80 378.00,315.22 379.00,315.85 380.00,315.66 380.60,316.80 382.00,320.55 382.50,322.00 383.00,325.24 384.30,335.00 385.30,345.60 386.00,340.06 386.50,336.00 387.00,332.94 388.00,327.83 388.80,323.00 390.00,322.62 391.00,321.71 392.00,321.05 392.90,320.30 394.00,320.88 395.00,321.09 395.60,321.60 396.50,326.00 397.40,333.30 398.30,322.00 399.10,315.80 400.00,313.92 401.00,311.75 402.20,309.60 403.00,309.56 404.00,309.08 405.00,309.07 406.00,307.82 407.00,308.63 408.00,307.51 409.00,307.23 410.00,307.21 411.00,306.73 412.40,306.60 413.00,306.69 414.00,306.16 415.00,305.81 416.00,305.83 417.00,306.81 418.00,306.08 419.00,305.37 420.00,305.86 421.00,304.98 422.00,306.56 423.00,304.81 424.00,305.71 425.00,305.64 426.00,304.55 427.00,305.33 427.80,305.10 429.00,307.65 429.50,308.00 430.00,309.56 430.90,311.70 432.00,311.46 433.00,311.46 434.00,310.73 435.00,310.48 436.00,309.91 437.10,309.60 438.00,309.47 439.00,308.18 440.00,308.55 441.00,307.40 442.00,306.60 443.00,306.83 444.00,307.00 445.00,306.13 446.00,304.89 447.30,304.50 448.00,304.60 449.00,303.68 450.00,303.49 451.00,303.25 452.00,301.69 453.00,302.60 454.00,301.64 455.00,301.45 456.00,300.71 457.00,300.34 458.00,300.28 459.00,300.81 460.00,300.88 460.70,299.80" fill="none" stroke="#ff00ff" stroke-width="1.8" stroke-linejoin="round" stroke-linecap="round" />
<polyline points="200.00,219.60 201.00,219.65 202.00,220.23 203.00,220.13 204.00,220.18 205.00,220.68 206.00,219.32 207.00,219.66 208.00,219.37 209.00,220.03 210.00,220.64 211.00,220.18 212.00,220.49 213.00,219.35 214.00,220.43 215.00,219.95 216.00,221.35 216.70,220.50 218.00,221.07 219.00,221.21 220.00,220.80 221.00,221.24 222.00,221.36 223.00,220.96 224.00,220.99 225.00,221.28 226.00,221.13 227.00,221.24 228.00,221.50 229.00,221.37 230.00,222.22 231.00,221.14 231.60,222.00 233.00,222.75 234.00,222.27 235.00,222.56 236.00,222.40 237.00,223.25 238.00,223.44 239.00,223.90 240.00,223.79 241.00,224.34 242.00,225.45 243.00,224.99 244.00,224.74 244.70,225.20 246.00,225.38 247.00,224.62 248.00,224.75 249.00,224.53 250.00,223.81 251.00,222.81 252.00,223.37 253.10,223.30 254.00,223.71 255.00,223.39 256.00,223.94 257.00,224.36 258.00,223.74 259.00,224.77 260.00,225.12 261.00,224.99 262.00,225.18 263.40,224.80 264.00,225.42 265.00,226.12 266.00,225.21 267.00,225.24 268.00,225.67 269.00,225.03 270.00,224.84 271.00,225.29 272.00,226.04 273.00,226.22 274.00,225.34 275.00,225.29 276.00,226.19 277.00,226.38 278.00,226.57 279.00,227.05 280.00,227.46 281.00,227.08 282.10,227.10 283.00,227.59 284.00,226.95 285.00,227.12 286.00,228.03 287.00,228.46 288.00,228.69 289.00,228.84 290.00,229.14 291.00,229.36 292.00,228.29 293.00,229.01 294.00,229.81 295.00,230.09 296.00,229.25 297.00,230.80 298.00,230.20 299.00,230.51 300.00,230.97 301.00,231.42 302.00,230.54 302.70,231.40 304.00,232.08 305.00,231.76 306.00,231.47 307.00,231.86 308.00,231.04 309.00,231.95 310.00,232.50 311.00,232.20 312.00,232.53 313.00,232.76 314.00,232.99 315.00,233.62 316.00,233.23 317.00,233.25 318.00,233.79 319.00,234.70 320.00,233.80 321.00,233.60 322.00,234.01 323.00,232.94 324.00,234.38 325.00,234.01 326.00,234.32 327.00,233.60 328.00,233.08 329.00,234.02 330.00,233.93 331.00,233.10 332.00,232.77 333.00,233.71 334.00,233.37 335.00,234.74 336.00,233.10 337.00,233.12 338.00,233.31 339.00,232.50 340.00,232.87 341.00,234.11 342.00,233.20 343.00,232.93 344.00,232.58 345.00,233.48 346.00,233.50 347.00,233.27 348.00,232.92 349.00,233.25 350.00,233.26 351.00,232.70 352.00,233.33 353.00,231.94 354.00,232.33 355.00,232.79 356.00,232.87 357.00,232.32 358.00,233.04 359.00,233.38 360.00,233.05 361.00,232.80 362.00,233.03 363.00,233.46 364.00,233.37 365.00,232.71 366.00,233.30 367.00,234.17 368.00,233.08 369.00,233.80 370.00,233.70 371.00,233.56 372.00,233.63 373.00,234.31 374.00,234.53 375.00,234.65 376.00,233.90 377.00,234.60 377.50,234.80 378.00,235.14 379.00,235.79 380.00,235.99 381.00,236.00 382.00,238.02 383.00,239.75 383.50,240.00 384.00,241.38 385.30,243.50 386.00,241.34 387.00,239.28 387.50,238.00 388.00,237.48 389.00,236.32 390.00,236.35 390.90,236.90 392.00,238.16 393.00,236.75 394.00,237.50 395.00,237.68 396.00,239.81 397.00,241.40 398.00,240.21 399.00,237.50 400.00,236.98 401.00,236.70 402.20,235.90 403.00,235.73 404.00,235.78 405.00,236.41 406.00,236.13 407.00,235.64 408.00,236.09 409.00,236.13 410.00,235.44 411.00,235.64 412.00,235.59 413.00,235.08 414.00,235.95 415.00,235.24 416.00,234.97 417.00,234.40 418.00,234.56 419.00,235.91 420.00,234.53 421.00,235.27 422.00,234.83 423.00,235.23 424.00,235.23 425.00,234.49 426.00,234.69 426.80,234.80 428.00,235.70 428.50,236.00 429.00,236.89 430.00,238.49 430.90,240.00 432.00,239.98 433.00,240.57 434.00,241.04 435.00,240.50 436.00,240.45 437.00,239.50 438.00,239.75 439.00,239.26 440.00,239.15 441.00,239.52 442.00,238.17 443.20,237.90 444.00,237.63 445.00,236.86 446.00,236.83 447.00,236.36 448.00,237.12 449.00,236.14 450.00,235.37 451.00,236.29 452.00,235.00 453.00,234.08 454.00,234.92 455.00,234.75 456.00,234.28 457.00,233.61 458.00,233.42 459.00,233.06 460.00,233.37 460.70,232.80" fill="none" stroke="#0000ff" stroke-width="1.8" stroke-linejoin="round" stroke-linecap="round" />
<polyline points="200.00,187.10 201.00,188.07 202.00,185.67 203.00,187.74 204.00,187.35 205.00,188.03 206.00,187.62 207.00,188.39 208.00,187.55 209.00,187.33 210.00,187.93 211.00,187.91 212.00,187.57 213.00,187.67 214.00,188.21 215.00,188.26 216.00,187.71 217.00,187.83 218.00,187.16 219.00,188.96 220.00,188.06 221.00,188.90 222.00,188.49 223.00,189.31 224.20,188.40 225.00,189.19 226.00,188.62 227.00,189.23 228.00,188.05 229.00,189.18 230.00,187.84 231.00,188.79 232.00,189.18 233.00,188.79 234.00,188.53 235.00,188.34 236.00,188.60 237.00,189.33 238.00,189.28 239.00,188.74 240.00,188.90 241.00,187.99 242.00,188.67 243.00,187.32 244.00,187.49 245.00,187.10 246.00,187.56 247.00,187.02 248.00,186.85 249.00,186.46 250.00,185.70 250.50,185.90 251.00,186.19 252.00,186.67 253.00,185.99 254.00,186.37 255.00,186.04 256.00,186.66 257.00,186.52 258.00,186.67 259.00,186.45 260.00,187.14 261.00,186.19 262.00,186.24 263.00,186.16 264.00,186.50 265.00,187.03 266.00,186.63 267.00,186.84 268.00,187.75 269.00,188.19 270.00,188.11 271.00,186.70 272.00,187.79 272.60,188.40 274.00,188.06 275.00,188.13 276.00,188.67 277.00,189.92 278.00,188.99 279.00,188.92 280.00,189.77 281.00,189.59 282.00,189.76 283.00,189.49 284.00,189.97 285.00,190.33 286.00,189.29 287.00,189.58 288.00,191.07 289.00,191.08 290.00,190.80 291.00,190.73 292.00,190.66 293.00,191.26 294.00,190.94 295.00,191.55 296.00,192.73 297.00,192.15 298.00,192.85 299.00,192.34 300.00,192.82 301.00,193.51 302.00,193.00 303.00,192.38 304.00,192.92 305.00,193.05 306.00,193.32 307.00,194.00 308.00,193.61 309.00,192.56 310.00,193.22 311.00,192.95 312.00,192.98 313.00,194.50 314.00,193.00 315.00,193.70 316.00,193.26 317.00,194.10 318.00,193.89 319.00,193.82 320.00,193.80 321.00,193.78 322.00,194.40 323.00,193.38 324.00,193.50 325.00,193.31 326.00,194.56 327.00,193.76 328.00,193.40 329.00,193.72 330.00,195.20 331.00,193.91 332.00,194.40 333.00,194.22 334.00,194.00 335.00,193.67 336.00,193.87 337.00,193.87 338.00,192.96 339.00,195.37 340.00,194.56 341.00,194.17 342.00,194.02 343.00,193.74 344.00,194.63 345.00,194.07 346.00,194.42 347.00,193.50 348.00,194.40 349.00,195.22 350.00,194.09 351.00,194.65 352.00,194.29 353.00,194.84 354.00,194.83 355.00,194.34 356.00,194.05 357.00,194.48 358.00,194.38 359.00,194.06 360.00,194.61 361.00,194.40 362.00,194.76 363.00,194.25 364.00,194.78 365.00,196.44 366.00,195.54 367.00,195.32 368.00,196.67 369.00,195.34 370.00,194.47 371.00,194.90 372.00,195.24 373.00,196.28 374.00,196.78 375.00,195.35 376.00,197.14 377.00,196.11 377.50,196.80 378.00,197.13 379.00,197.63 380.00,198.02 381.00,198.20 382.00,198.69 383.00,199.00 384.00,199.56 385.30,201.60 386.00,201.19 387.00,200.77 388.00,199.50 389.00,199.76 390.00,200.39 390.90,198.90 392.00,199.65 393.00,199.67 394.00,199.50 395.00,201.03 396.00,201.02 397.00,201.60 398.00,200.06 399.00,199.80 400.00,198.59 401.00,200.25 402.20,199.50 403.00,199.81 404.00,199.98 405.00,199.42 406.00,199.80 407.00,200.60 408.00,199.86 409.00,199.16 410.00,199.54 411.00,200.48 412.00,199.27 413.00,198.56 414.00,198.74 415.00,199.25 416.00,200.35 417.00,200.03 418.00,199.64 419.00,199.40 420.00,200.02 421.00,200.03 422.00,199.86 423.00,200.05 424.00,199.83 425.00,201.14 426.00,199.09 426.80,200.30 428.00,200.86 428.50,201.00 429.00,201.33 430.00,203.85 430.90,205.00 432.00,203.94 433.00,203.39 434.00,202.62 435.00,201.50 436.00,201.03 437.00,200.85 438.00,199.08 439.00,199.68 440.00,198.52 441.00,198.25 442.00,198.27 443.20,196.80 444.00,196.97 445.00,196.91 446.00,194.31 447.00,194.47 448.00,194.94 449.00,193.40 450.00,193.39 451.00,193.84 452.00,192.50 453.00,192.75 454.00,191.65 455.00,192.18 456.00,192.09 457.00,191.61 458.00,191.35 459.00,191.28 460.00,190.28 460.70,190.90" fill="none" stroke="#00ff00" stroke-width="1.8" stroke-linejoin="round" stroke-linecap="round" />
<polyline points="200.00,179.60 201.00,179.90 202.00,179.02 203.00,178.68 204.00,177.96 205.00,179.20 206.00,179.95 207.00,179.30 208.00,179.49 209.00,179.70 210.00,178.70 211.00,180.43 212.00,178.62 213.00,179.20 214.00,180.33 215.00,178.86 216.00,178.93 217.00,178.57 218.00,178.95 219.00,177.67 220.00,178.37 221.00,179.49 222.00,178.71 223.00,178.43 224.20,178.50 225.00,178.80 226.00,178.95 227.00,178.96 228.00,179.31 229.00,178.33 230.00,179.59 231.00,179.10 232.00,179.96 233.00,179.70 234.00,179.35 235.00,179.95 236.00,179.62 237.30,180.30 238.00,180.67 239.00,179.95 240.00,180.20 241.00,179.02 242.00,180.19 243.00,179.04 244.00,179.68 245.00,179.23 246.00,178.05 247.00,178.57 248.00,177.94 249.00,178.22 250.00,178.54 251.00,177.97 252.00,177.97 253.20,177.20 254.00,176.68 255.00,177.46 256.00,177.63 257.00,178.08 258.00,177.31 259.00,178.00 260.00,178.01 261.00,177.13 262.00,177.46 263.40,178.10 264.00,178.42 265.00,177.78 266.00,177.92 267.00,179.15 268.00,179.02 269.00,178.92 270.00,179.26 271.00,179.17 272.00,179.28 273.00,179.48 274.00,180.07 275.00,180.71 276.00,179.98 276.50,180.30 277.00,180.35 278.00,180.44 279.00,180.09 280.00,181.01 281.00,181.48 282.00,180.79 283.00,181.80 284.00,181.26 285.00,182.29 286.00,182.49 287.00,181.86 288.00,181.22 289.00,182.21 290.00,181.85 291.00,182.06 291.50,182.80 292.00,182.79 293.00,183.84 294.00,183.35 295.00,183.52 296.00,182.94 297.00,183.80 298.00,183.64 299.00,184.83 300.00,184.55 301.00,185.03 302.00,185.28 303.00,185.43 304.00,186.23 304.60,185.90 306.00,186.21 307.00,185.85 308.00,186.13 309.00,186.38 310.00,186.83 311.00,186.26 312.00,186.96 313.00,185.98 314.00,186.21 315.00,185.63 316.00,186.83 317.00,185.95 318.00,185.99 319.00,186.98 320.00,186.60 321.00,186.30 322.00,186.15 323.00,186.97 324.00,186.36 325.00,186.88 326.00,186.18 327.00,186.71 328.00,186.85 329.00,186.32 330.00,187.14 331.00,186.01 332.00,186.07 333.00,186.18 334.00,186.60 335.00,185.92 336.00,185.81 337.00,186.12 338.00,186.58 339.00,185.71 340.00,185.25 341.00,185.78 342.00,186.13 343.00,185.51 344.00,185.80 345.00,184.77 346.00,185.68 347.00,185.69 348.00,185.91 349.00,185.72 350.00,185.91 350.80,185.50 352.00,185.06 353.00,185.94 354.00,184.83 355.00,185.41 356.00,186.31 357.00,186.23 358.00,184.92 359.00,186.19 360.00,185.73 361.00,185.61 362.00,186.15 363.00,186.16 364.00,186.84 365.00,185.47 366.00,186.03 367.00,186.22 368.00,185.42 369.00,186.97 370.00,187.31 371.00,186.17 372.00,186.72 373.40,186.60 374.00,186.84 375.00,187.73 376.00,187.88 377.00,189.25 378.00,188.88 379.00,190.76 380.00,190.88 381.00,192.54 381.60,191.70 383.00,193.37 384.00,195.93 385.30,198.30 386.00,196.41 387.00,195.21 388.00,193.50 389.00,193.44 390.00,192.49 390.90,192.70 392.00,192.27 393.00,192.38 394.00,193.50 395.00,194.71 396.00,196.34 397.00,196.80 398.00,195.24 399.00,192.50 400.00,191.74 401.00,190.46 402.20,190.00 403.00,189.79 404.00,189.19 405.00,189.12 406.00,190.41 407.00,189.70 408.00,189.97 409.00,189.64 410.00,190.41 411.00,190.43 412.00,189.29 413.00,189.47 414.00,189.28 415.00,190.24 416.00,190.17 417.00,189.37 418.00,190.64 419.00,189.47 420.00,188.81 421.00,188.37 422.00,189.28 423.00,189.48 424.00,189.00 425.00,189.44 426.00,189.82 426.80,189.20 428.00,189.73 428.50,190.00 429.00,191.42 430.00,193.83 430.90,194.80 432.00,194.30 433.00,193.08 434.00,192.90 435.00,192.00 436.00,191.61 437.00,191.75 438.00,189.81 439.00,188.59 440.00,188.86 441.00,188.21 442.00,187.18 443.20,186.60 444.00,186.56 445.00,186.02 446.00,186.06 447.00,184.63 448.00,184.29 449.00,184.22 450.00,183.56 451.00,184.04 452.00,183.00 453.00,182.99 454.00,182.39 455.00,182.87 456.00,182.06 457.00,182.01 458.00,181.61 459.00,180.83 460.00,180.54 460.70,180.40" fill="none" stroke="#ff0000" stroke-width="1.8" stroke-linejoin="round" stroke-linecap="round" />
</svg>
</body></html>
